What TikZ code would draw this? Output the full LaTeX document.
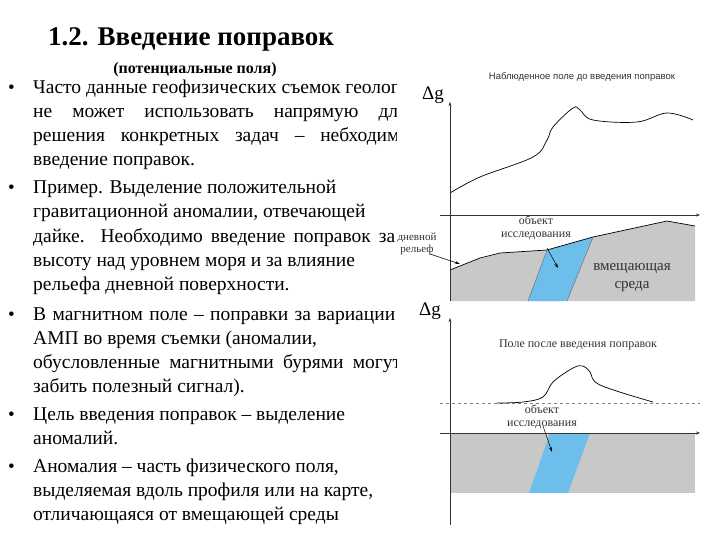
\documentclass[tikz,border=0pt]{standalone}
\usepackage{fontspec}
\setmainfont{Liberation Serif}
\newfontfamily\lsans{Liberation Sans}
\usetikzlibrary{arrows.meta}
\definecolor{gnd}{RGB}{200,200,200}
\definecolor{dyke}{RGB}{110,190,235}
\begin{document}
\begin{tikzpicture}[x=1pt,y=-1pt,
  txt/.style={anchor=base west,inner sep=0pt,font=\fontsize{19.5}{20}\selectfont},
  bul/.style={anchor=base west,inner sep=0pt,font=\fontsize{19}{19}\selectfont},
  lab/.style={inner sep=0pt,font=\fontsize{12}{12.5}\selectfont,text=black!80},
  axis/.style={-{Stealth[length=4pt,width=3pt]},black!80,line width=0.6pt},
  curve/.style={black,line width=0.7pt},
  ptr/.style={-{Stealth[length=5pt,width=3pt]},line width=0.5pt}]
\useasboundingbox (0,0) rectangle (720,540);
\fill[white] (0,0) rectangle (720,540);
\node[anchor=base west,inner sep=0pt,font=\fontsize{27}{27}\selectfont\bfseries] (title) at (48,46) {1.2. Введение поправок};
\node[inner sep=0pt,font=\fontsize{16}{16}\selectfont\bfseries] (sub) at (195,70) {(потенциальные поля)};
\begin{scope}
\clip (0,75) rectangle (396,540);
\foreach \y in {94,194,320,420,472} \node[bul] at (8,\y) {•};
\node[txt] (l1) at (33,94) {Часто данные геофизических съемок геологи};
\node[txt] (l2) at (33,118) {\makebox[374pt][s]{не может использовать напрямую для}};
\node[txt] (l3) at (33,142) {\makebox[376pt][s]{решения конкретных задач – небходимо}};
\node[txt] (l4) at (33,166) {введение поправок.};
\node[txt] (l5) at (33,194) {Пример. Выделение положительной};
\node[txt] (l6) at (33,218) {гравитационной аномалии, отвечающей};
\node[txt] (l7) at (33,242) {\makebox[362pt][s]{дайке. Необходимо введение поправок за}};
\node[txt] (l8) at (33,266) {высоту над уровнем моря и за влияние};
\node[txt] (l9) at (33,290) {рельефа дневной поверхности.};
\node[txt] (l10) at (33,320) {\makebox[362pt][s]{В магнитном поле – поправки за вариации}};
\node[txt] (l11) at (33,344) {АМП во время съемки (аномалии,};
\node[txt] (l12) at (33,368) {\makebox[368pt][s]{обусловленные магнитными бурями могут}};
\node[txt] (l13) at (33,392) {забить полезный сигнал).};
\node[txt] (l14) at (33,420) {Цель введения поправок – выделение};
\node[txt] (l15) at (33,444) {аномалий.};
\node[txt] (l16) at (33,472) {Аномалия – часть физического поля,};
\node[txt] (l17) at (33,496) {выделяемая вдоль профиля или на карте,};
\node[txt] (l18) at (33,520) {отличающаяся от вмещающей среды};
\end{scope}
% ---- top diagram
\fill[gnd] (450,270) -- (480,258) -- (500,253) -- (547,250) -- (593,237) -- (667,221) -- (695,226) -- (695,301) -- (450,301) -- cycle;
\fill[dyke] (547,250) -- (593,237) -- (567,301) -- (528,301) -- cycle;
\draw[curve] (450,270) -- (480,258) -- (500,253) -- (547,250) -- (593,237) -- (667,221) -- (695,226);
\draw[black!60,line width=0.4pt] (547,250) -- (528,301) (593,237) -- (567,301);
\draw[curve] plot[smooth,tension=0.6] coordinates {(450,193) (480,177) (533,157) (547,140) (553,127) (573,108) (580,110) (593,120) (637,122) (667,113) (693,120)};
\coordinate (a1s) at (440,215); \coordinate (a1e) at (700,215);
\coordinate (v1s) at (450,301); \coordinate (v1e) at (450,102);
\draw[axis] (a1s) -- (a1e);
\draw[axis] (v1s) -- (v1e);
\node[lab,font=\lsans\fontsize{9.5}{10}\selectfont] (t1) at (582,77) {Наблюденное поле до введения поправок};
\node[inner sep=0pt,font=\fontsize{19}{19}\selectfont] (dg1) at (433,95) {Δg};
\node[lab,align=center] (obj1) at (536,228) {объект\\исследования};
\coordinate (p1) at (558,268);
\draw[ptr] (547,248) -- (p1);
\node[lab,align=center,font=\fontsize{11}{12}\selectfont] (rel) at (417,244) {дневной\\рельеф};
\coordinate (p2) at (460,264);
\draw[ptr] (430,254) -- (p2);
\node[inner sep=0pt,align=center,font=\fontsize{15}{18}\selectfont,text=black!80] (env) at (632,278) {вмещающая\\среда};
% ---- bottom diagram
\fill[gnd] (450,433) rectangle (695,493);
\fill[dyke] (550,433) -- (590,433) -- (568,493) -- (529,493) -- cycle;
\draw[black!50,dashed,line width=0.5pt] (440,403) -- (700,403);
\draw[curve] plot[smooth,tension=0.6] coordinates {(497,403) (523,402) (543,397) (553,382) (573,368) (583,366) (590,372) (600,385) (653,402)};
\coordinate (a2s) at (440,433); \coordinate (a2e) at (700,433);
\coordinate (v2s) at (450,525); \coordinate (v2e) at (450,318);
\draw[axis] (a2s) -- (a2e);
\draw[axis] (v2s) -- (v2e);
\node[inner sep=0pt,font=\fontsize{19}{19}\selectfont] (dg2) at (430,311) {Δg};
\node[lab] (t2) at (578,345) {Поле после введения поправок};
\node[lab,align=center] (obj2) at (542,417) {объект\\исследования};
\coordinate (p3) at (552,452);
\draw[ptr] (543,426) -- (p3);
\end{tikzpicture}
\end{document}
